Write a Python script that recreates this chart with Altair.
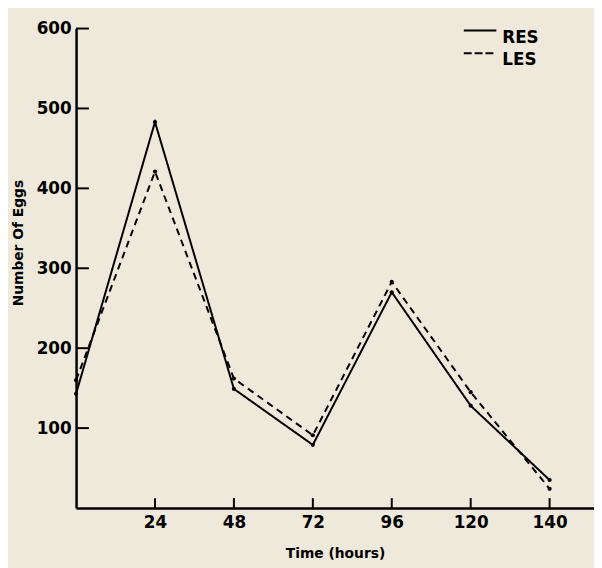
import altair as alt
import pandas as pd

hours = [0, 24, 48, 72, 96, 120, 144]
res_eggs = [143, 483, 149, 79, 270, 128, 35]
les_eggs = [160, 421, 162, 91, 283, 145, 24]
series_names = ["RES", "LES"]
x_tick_values = [24, 48, 72, 96, 120, 144]
x_tick_labels = ["24", "48", "72", "96", "120", "140"]
y_tick_values = [100, 200, 300, 400, 500, 600]

W, H = 525, 486
BG = "#EFE9DB"
FONT = "DejaVu Sans"

df = pd.DataFrame({
    "hours": hours * 2,
    "eggs": res_eggs + les_eggs,
    "series": [series_names[0]] * len(hours) + [series_names[1]] * len(hours),
})
xt = pd.DataFrame({"hours": x_tick_values})
yt = pd.DataFrame({"eggs": y_tick_values})

expr = "''"
for v, l in reversed(list(zip(x_tick_values, x_tick_labels))):
    expr = f"datum.value == {v} ? '{l}' : ({expr})"

x_axis = alt.Axis(values=x_tick_values, labelExpr=expr, title="Time (hours)",
                  ticks=False, grid=False, labelPadding=7, titlePadding=16)
y_axis = alt.Axis(values=y_tick_values, title="Number Of Eggs", ticks=False,
                  grid=False, labelPadding=5, titlePadding=11, titleY=217)
x_scale = alt.Scale(domain=[0, 157.5], nice=False, zero=False)
y_scale = alt.Scale(domain=[0, 600], nice=False)

x_enc = alt.X("hours:Q", scale=x_scale, axis=x_axis)
y_enc = alt.Y("eggs:Q", scale=y_scale, axis=y_axis)

dash_main = [[1, 0], [7, 5]]
dash_legend = [[1, 0], [8, 3]]

lines = alt.Chart(df).mark_line(color="black", strokeWidth=2).encode(
    x=x_enc, y=y_enc,
    strokeDash=alt.StrokeDash(
        "series:N",
        scale=alt.Scale(domain=series_names, range=dash_main),
        legend=None,
    ),
    detail="series:N",
)
points = alt.Chart(df).mark_circle(color="black", size=18, opacity=1).encode(
    x=x_enc, y=y_enc
)
xticks = alt.Chart(xt).mark_rule(color="black", strokeWidth=2).encode(
    x=x_enc, y=alt.value(H), y2=alt.value(H - 10)
)
yticks = alt.Chart(yt).mark_rule(color="black", strokeWidth=2).encode(
    y=y_enc, x=alt.value(0), x2=alt.value(13)
)

legend_layers = []
for i, name in enumerate(series_names):
    ldf = pd.DataFrame({"series": [name]})
    legend_layers.append(
        alt.Chart(ldf).mark_rule(color="black", strokeWidth=2,
                                 strokeDash=dash_legend[i]).encode(
            x=alt.value(393), x2=alt.value(426), y=alt.value(2 + 23 * i)
        )
    )
    legend_layers.append(
        alt.Chart(ldf).mark_text(align="left", baseline="middle", font=FONT,
                                 fontWeight="bold", fontSize=17,
                                 color="black").encode(
            x=alt.value(432), y=alt.value(10 + 22 * i), text="series:N"
        )
    )

chart = alt.layer(lines, points, xticks, yticks, *legend_layers).properties(
    width=W, height=H,
    autosize=alt.AutoSizeParams(type="none"),
    padding={"left": 69, "top": 17, "right": 0, "bottom": 57},
    background=BG,
).configure_view(stroke=None).configure_axis(
    domainColor="black", domainWidth=2.5,
    labelFont=FONT, labelFontWeight="bold", labelFontSize=17,
    labelColor="black", titleFont=FONT, titleFontWeight="bold",
    titleFontSize=14, titleColor="black",
)

chart.save("out.html", embed_options={"renderer": "svg", "actions": False})
